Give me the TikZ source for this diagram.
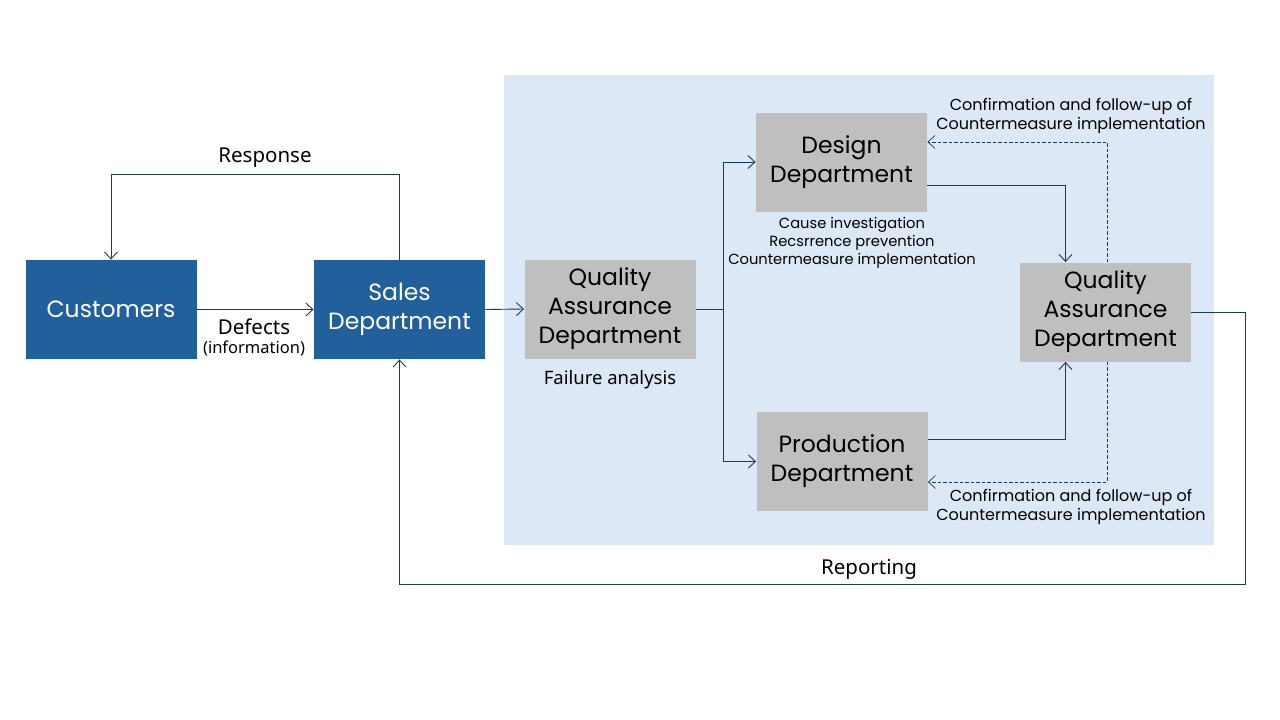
\documentclass[tikz,border=0pt]{standalone}
\usepackage{fontspec}
\setmainfont{Poppins}
\newfontfamily\labelfont{Noto Sans}
\usetikzlibrary{arrows.meta,positioning}

\definecolor{boxblue}{HTML}{22609B}
\definecolor{boxgray}{HTML}{BFBFBF}
\definecolor{areablue}{HTML}{DCE8F5}
\definecolor{linecol}{HTML}{1B3A57}

\begin{document}
\begin{tikzpicture}[x=1pt,y=-1pt,
					line width=0.9pt,
					blue node/.style={rectangle,fill=boxblue,text=white,inner sep=0pt,
						minimum width=171pt,minimum height=99pt,align=center,
						font=\fontsize{23.5}{29}\selectfont},
					gray node/.style={blue node,fill=boxgray,text=black},
					label node/.style={font=\labelfont\fontsize{20.5}{24}\selectfont},
					note node/.style={align=center,font=\fontsize{14.7}{18}\selectfont},
					flow/.style={draw=linecol,-{Straight Barb[length=7pt,width=13pt]}},
					feedback/.style={flow,dash pattern=on 3.5pt off 2pt,line width=0.7pt}]

  \useasboundingbox (0,0) rectangle (1280,720);
  % department area
  \fill[areablue] (504,75) rectangle (1214,545);

  \node[blue node] (customers) at (111,309.5) {Customers};
  \node[blue node] (sales) at (399.5,309.5) {Sales\\Department};
  \node[gray node] (qa left) at (610,309) {Quality\\Assurance\\Department};
  \node[gray node] (design) at (841.5,162) {Design\\Department};
  \node[gray node] (production) at (842,461.5) {Production\\Department};
  \node[gray node] (qa right) at (1105.5,312) {Quality\\Assurance\\Department};

  \node[label node] (response) at (265,158) {Response};
  \node[label node] (defects) at (254,327) {Defects};
  \node[note node,font=\labelfont\fontsize{16.5}{18}\selectfont] (information) at (254,348) {(information)};
  \node[label node,font=\labelfont\fontsize{18.5}{22}\selectfont] (failure) [below=8pt of qa left] {Failure analysis};
  \node[label node] (reporting) at (869,569) {Reporting};
  \node[note node] (cause) at (852,243) {Cause investigation\\Recsrrence prevention\\Countermeasure implementation};
  \node[note node,font=\fontsize{16}{19}\selectfont] (confirm top) at (1071,116) {Confirmation and follow-up of\\Countermeasure implementation};
  \node[note node,font=\fontsize{16}{19}\selectfont] (confirm bottom) at (1071,507) {Confirmation and follow-up of\\Countermeasure implementation};

  \draw[flow] (sales.north) -- ++(0,-85) -| (customers.north);
  \draw[flow] (customers.east) -- (sales.west);
  \draw[flow] (sales.east) -- (qa left.west);
  \draw[flow] (qa left.east) -- ++(27,0) coordinate (split) |- (design.west);
  \draw[flow] (split) |- (production.west);
  \draw[flow] ([yshift=-23pt]design.east) -| ([xshift=-40pt]qa right.north);
  \draw[flow] ([yshift=22pt]production.east) -| ([xshift=-40pt]qa right.south);
  \draw[feedback] ([xshift=1.5pt]qa right.north) |- ([yshift=20pt]design.east);
  \draw[feedback] ([xshift=1.5pt]qa right.south) |- ([yshift=-20.5pt]production.east);
  \draw[flow] (qa right.east) -| ++(54,272) -| (sales.south);
\end{tikzpicture}
\end{document}
